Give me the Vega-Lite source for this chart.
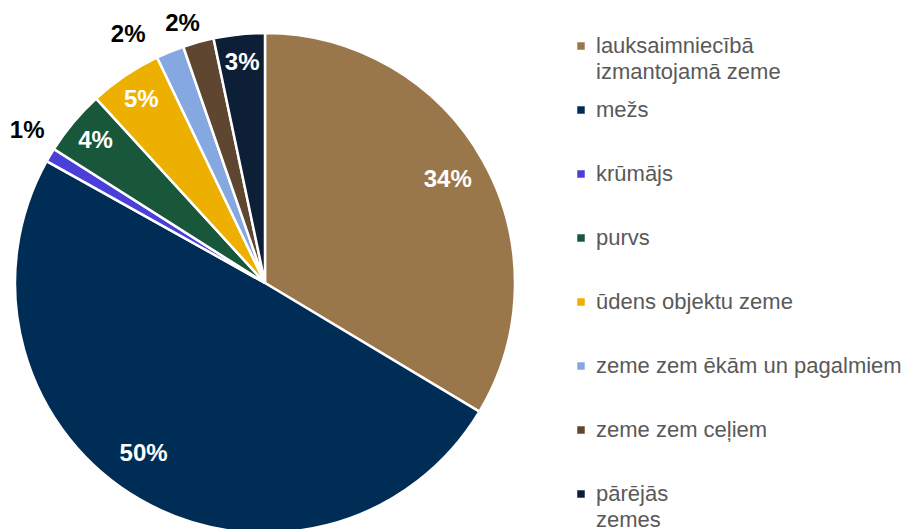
{
  "$schema": "https://vega.github.io/schema/vega-lite/v6.json",
  "width": 530,
  "height": 566,
  "padding": 0,
  "background": "white",
  "config": {
    "view": {"stroke": null},
    "font": "Liberation Sans",
    "style": {"guide-label": {"lineHeight": 26, "dy": -10}}
  },
  "data": {
    "values": [
      {"k": "lauksaimniecībā|izmantojamā zeme", "v": 0.336, "o": 1},
      {"k": "mežs", "v": 0.495, "o": 2},
      {"k": "krūmājs", "v": 0.009, "o": 3},
      {"k": "purvs", "v": 0.042, "o": 4},
      {"k": "ūdens objektu zeme", "v": 0.047, "o": 5},
      {"k": "zeme zem ēkām un pagalmiem", "v": 0.018, "o": 6},
      {"k": "zeme zem ceļiem", "v": 0.020, "o": 7},
      {"k": "pārējās|zemes", "v": 0.033, "o": 8}
    ]
  },
  "encoding": {
    "theta": {"field": "v", "type": "quantitative", "stack": true},
    "order": {"field": "o", "type": "quantitative"},
    "color": {
      "field": "k",
      "type": "nominal",
      "sort": null,
      "scale": {
        "domain": ["lauksaimniecībā|izmantojamā zeme", "mežs", "krūmājs", "purvs", "ūdens objektu zeme", "zeme zem ēkām un pagalmiem", "zeme zem ceļiem", "pārējās|zemes"],
        "range": ["#9A774A", "#002D55", "#4A40D9", "#19573A", "#EDB000", "#86A8E0", "#5E4631", "#0C1F36"]
      },
      "legend": {
        "title": null,
        "orient": "none",
        "legendX": 570,
        "legendY": 35,
        "symbolType": "square",
        "symbolSize": 56,
        "symbolStrokeWidth": 0,
        "labelFontSize": 22,
        "labelColor": "#595959",
        "labelFont": "Liberation Sans",
        "labelOffset": 4,
        "labelLimit": 400,
        "labelBaseline": "top",
        "rowPadding": 16,
        "gridAlign": "all",
        "labelExpr": "split(datum.label, '|')"
      }
    }
  },
  "layer": [
    {"mark": {"type": "arc", "outerRadius": 250, "stroke": "white", "strokeWidth": 2.5}},
    {
      "mark": {"type": "text", "radius": 210, "fontWeight": "bold", "font": "Liberation Sans"},
      "encoding": {
        "text": {"condition": {"test": "datum.o != 1", "value": ""}, "field": "v", "type": "quantitative", "format": ".0%"},
        "size": {"condition": {"test": "datum.o == 1", "value": 24}, "value": 0},
        "color": {"value": "white"}
      }
    },
    {
      "mark": {"type": "text", "radius": 210, "thetaOffset": 0.092, "fontWeight": "bold", "font": "Liberation Sans"},
      "encoding": {
        "text": {"condition": {"test": "datum.o != 2", "value": ""}, "field": "v", "type": "quantitative", "format": ".0%"},
        "size": {"condition": {"test": "datum.o == 2", "value": 24}, "value": 0},
        "color": {"value": "white"}
      }
    },
    {
      "mark": {"type": "text", "radius": 221, "fontWeight": "bold", "font": "Liberation Sans"},
      "encoding": {
        "text": {"condition": {"test": "!(datum.o == 4 || datum.o == 5 || datum.o == 8)", "value": ""}, "field": "v", "type": "quantitative", "format": ".0%"},
        "size": {"condition": {"test": "datum.o == 4 || datum.o == 5 || datum.o == 8", "value": 24}, "value": 0},
        "color": {"value": "white"}
      }
    },
    {
      "mark": {"type": "text", "radius": 282, "thetaOffset": 0.03, "fontWeight": "bold", "font": "Liberation Sans"},
      "encoding": {
        "text": {"condition": {"test": "datum.o != 3", "value": ""}, "field": "v", "type": "quantitative", "format": ".0%"},
        "size": {"condition": {"test": "datum.o == 3", "value": 24}, "value": 0},
        "color": {"value": "black"}
      }
    },
    {
      "mark": {"type": "text", "radius": 283, "thetaOffset": -0.115, "fontWeight": "bold", "font": "Liberation Sans"},
      "encoding": {
        "text": {"condition": {"test": "datum.o != 6", "value": ""}, "field": "v", "type": "quantitative", "format": ".0%"},
        "size": {"condition": {"test": "datum.o == 6", "value": 24}, "value": 0},
        "color": {"value": "black"}
      }
    },
    {
      "mark": {"type": "text", "radius": 272, "thetaOffset": -0.038, "fontWeight": "bold", "font": "Liberation Sans"},
      "encoding": {
        "text": {"condition": {"test": "datum.o != 7", "value": ""}, "field": "v", "type": "quantitative", "format": ".0%"},
        "size": {"condition": {"test": "datum.o == 7", "value": 24}, "value": 0},
        "color": {"value": "black"}
      }
    }
  ]
}
